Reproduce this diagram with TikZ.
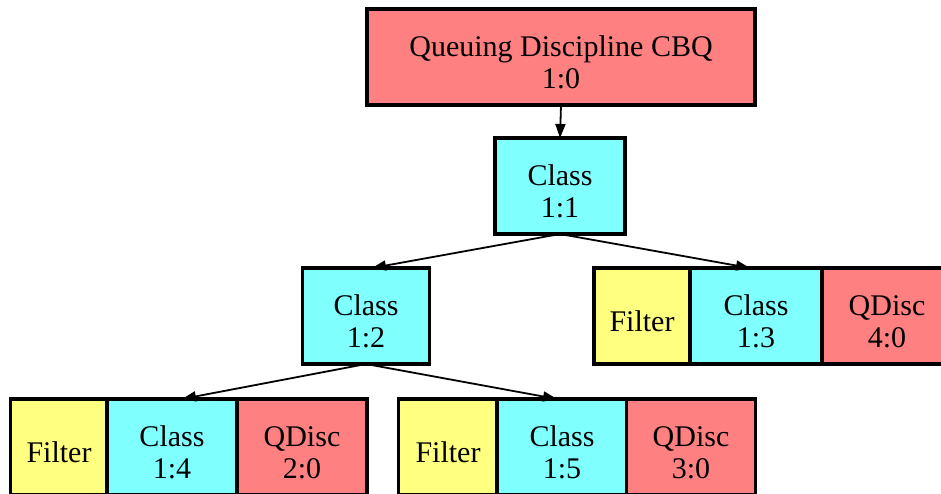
\documentclass[tikz,border=0pt]{standalone}
\usepackage{fontspec}
\setmainfont{Liberation Serif}
\usepackage{tikz}
\usetikzlibrary{arrows.meta, positioning}
\definecolor{cQdisc}{RGB}{255,128,128}
\definecolor{cClass}{RGB}{128,255,255}
\definecolor{cFilter}{RGB}{255,255,128}
\newcommand{\cellstrut}{\rule{0pt}{32pt}}
\tikzset{
	cell/.style  ={rectangle, draw=black, line width=3.5pt, align=center, inner sep=0pt, outer sep=0pt, minimum height=96pt},
	qdisc/.style ={cell, fill=cQdisc},
	klass/.style ={cell, fill=cClass},
	filt/.style  ={cell, fill=cFilter},
	edge/.style  ={-{Triangle[length=14pt, width=10pt]}, line width=1.8pt},
}

\begin{document}
\begin{tikzpicture}[x=1pt, y=-1pt, font=\fontsize{30}{32}\selectfont]
	\useasboundingbox (0,0) rectangle (941,493);
	\clip (0,0) rectangle (941,493);
	% root qdisc and inner classes
	\node[qdisc, minimum width=388pt] (q10) at (561,57) {\cellstrut Queuing Discipline CBQ\\1:0};
	\node[klass, minimum width=130pt] (c11) at (560,186) {\cellstrut Class\\1:1};
	\node[klass, minimum width=127pt] (c12) at (366,316) {\cellstrut Class\\1:2};
	% leaf classes with filter and qdisc
	\node[filt,  minimum width=96pt]  (f13) at (642,316) {\cellstrut Filter};
	\node[klass, minimum width=132pt] (c13) at (756,316) {\cellstrut Class\\1:3};
	\node[qdisc, minimum width=130pt] (q40) at (887,316) {\cellstrut QDisc\\4:0};
	\node[filt,  minimum width=97pt]  (f14) at (59,447) {\cellstrut Filter};
	\node[klass, minimum width=130pt] (c14) at (172,447) {\cellstrut Class\\1:4};
	\node[qdisc, minimum width=130pt] (q20) at (302,447) {\cellstrut QDisc\\2:0};
	\node[filt,  minimum width=99pt]  (f15) at (448,447) {\cellstrut Filter};
	\node[klass, minimum width=130pt] (c15) at (562,447) {\cellstrut Class\\1:5};
	\node[qdisc, minimum width=129pt] (q30) at (691,447) {\cellstrut QDisc\\3:0};
	% edges
	\draw[edge] (q10.south) -- (c11.north);
	\draw[edge] (c11.south) -- ([xshift=6pt]c12.north);
	\draw[edge] (c11.south) -- ([xshift=-6pt]c13.north);
	\draw[edge] (c12.south) -- ([xshift=10pt]c14.north);
	\draw[edge] (c12.south) -- ([xshift=-5pt]c15.north);
\end{tikzpicture}
\end{document}
